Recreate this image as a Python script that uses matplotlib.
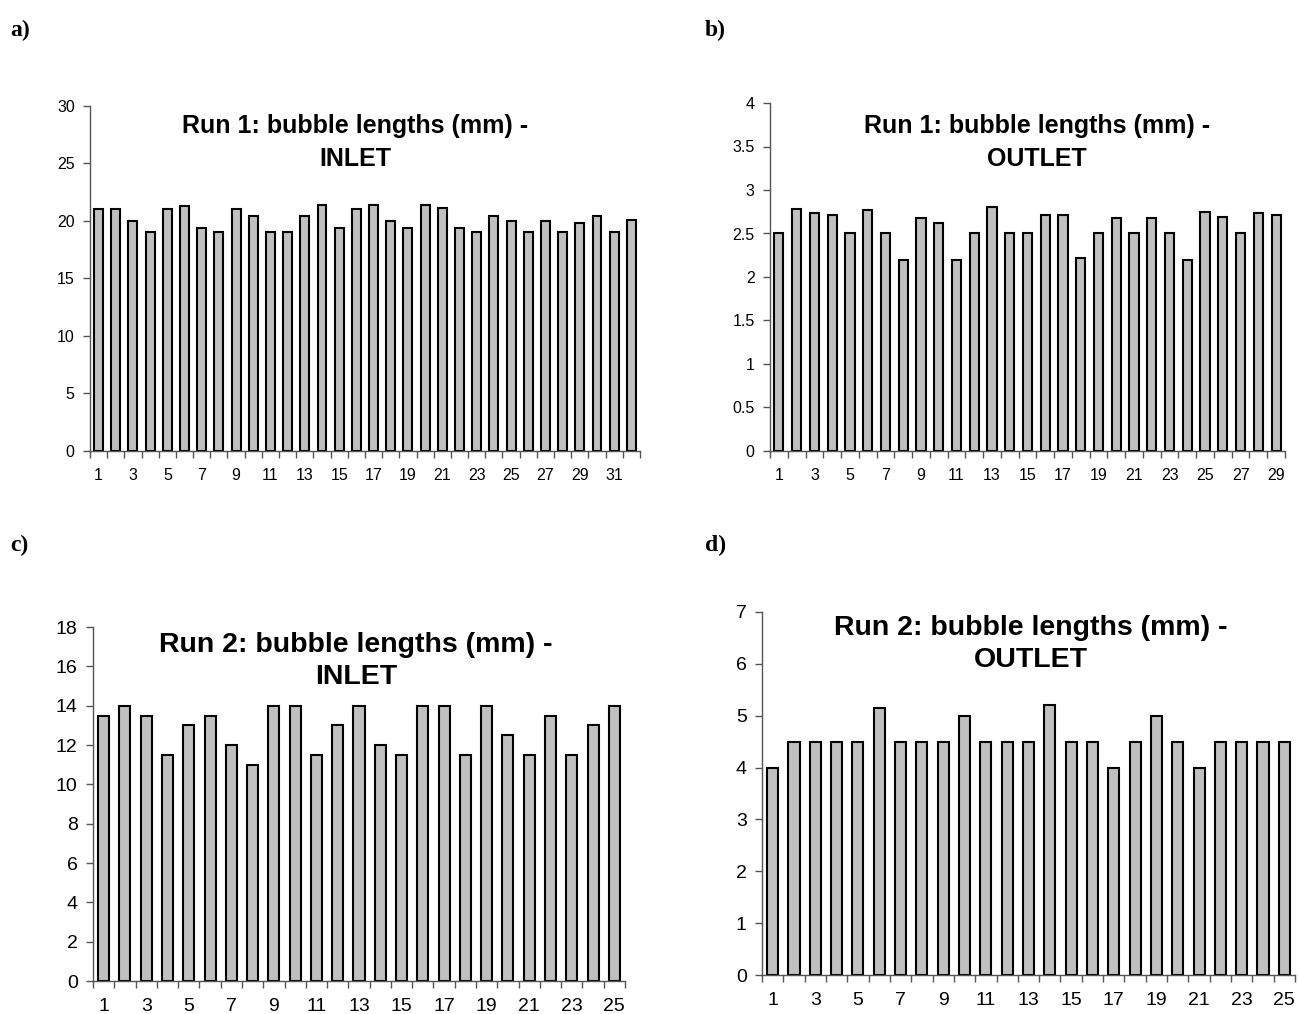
import matplotlib
matplotlib.use("Agg")
import matplotlib.pyplot as plt
import numpy as np

run1_inlet = [21, 21, 20, 19, 21, 21.3, 19.4, 19, 21, 20.4, 19, 19, 20.4, 21.4, 19.4, 21,
              21.4, 20, 19.4, 21.4, 21.1, 19.4, 19, 20.4, 20, 19, 20, 19, 19.8, 20.4, 19, 20.1]
run1_outlet = [2.5, 2.78, 2.73, 2.71, 2.5, 2.77, 2.5, 2.2, 2.68, 2.62, 2.2, 2.5, 2.8, 2.5, 2.5,
               2.71, 2.71, 2.22, 2.5, 2.68, 2.5, 2.68, 2.5, 2.19, 2.75, 2.69, 2.5, 2.73, 2.71]
run2_inlet = [13.5, 14, 13.5, 11.5, 13, 13.5, 12, 11, 14, 14, 11.5, 13, 14, 12, 11.5, 14, 14,
              11.5, 14, 12.5, 11.5, 13.5, 11.5, 13, 14]
run2_outlet = [4, 4.5, 4.5, 4.5, 4.5, 5.15, 4.5, 4.5, 4.5, 5, 4.5, 4.5, 4.5, 5.2, 4.5, 4.5, 4,
               4.5, 5, 4.5, 4, 4.5, 4.5, 4.5, 4.5]

titles = ["Run 1: bubble lengths (mm) -\nINLET", "Run 1: bubble lengths (mm) -\nOUTLET",
          "Run 2: bubble lengths (mm) -\nINLET", "Run 2: bubble lengths (mm) -\nOUTLET"]
panel_labels = ["a)", "b)", "c)", "d)"]
yticks_list = [np.arange(0, 31, 5), np.arange(0, 4.01, 0.5), np.arange(0, 19, 2), np.arange(0, 8, 1)]
ytick_labels = [[str(int(v)) for v in yticks_list[0]],
                ["0", "0.5", "1", "1.5", "2", "2.5", "3", "3.5", "4"],
                [str(int(v)) for v in yticks_list[2]],
                [str(int(v)) for v in yticks_list[3]]]
datasets = [run1_inlet, run1_outlet, run2_inlet, run2_outlet]

W, H = 1298, 1014
fig = plt.figure(figsize=(W / 100, H / 100), dpi=100)

# axes boxes in pixels: left, right, top, bottom
boxes = [(90, 640, 106, 451), (770, 1285, 103, 451), (93, 625, 627, 981), (762, 1295, 612, 975)]
title_pos = [(355, 114), (1037, 114), (356, 632), (1031, 615)]
title_fs = [18, 18, 20.5, 20.5]
title_ls = [1.5, 1.5, 1.3, 1.3]
tick_fs = [11.5, 11.5, 14, 14]
label_pos = [(10, 30), (705, 30), (10, 545), (705, 545)]

for i in range(4):
    l, r, t, b = boxes[i]
    ax = fig.add_axes([l / W, 1 - b / H, (r - l) / W, (b - t) / H])
    vals = datasets[i]
    n = len(vals)
    x = np.arange(1, n + 1)
    ax.bar(x, vals, width=0.52, color="#c0c0c0", edgecolor="black", linewidth=1.5)
    ax.set_xlim(0.5, n + 0.5)
    yt = yticks_list[i]
    ax.set_ylim(0, yt[-1])
    ax.set_yticks(yt)
    ax.set_yticklabels(ytick_labels[i], fontfamily="Liberation Sans", fontsize=tick_fs[i])
    ax.set_xticks(x[::2])
    ax.set_xticklabels([str(v) for v in x[::2]], fontfamily="Liberation Sans", fontsize=tick_fs[i])
    ax.set_xticks(np.arange(0.5, n + 1.0, 1.0), minor=True)
    ax.tick_params(axis="x", which="major", length=0, pad=12)
    ax.tick_params(axis="x", which="minor", length=5, width=1, color="#555555", direction="out")
    ax.tick_params(axis="y", length=5, width=1, color="#555555", direction="out", pad=6)
    for s in ["top", "right"]:
        ax.spines[s].set_visible(False)
    for s in ["left", "bottom"]:
        ax.spines[s].set_color("#555555")
        ax.spines[s].set_linewidth(1.0)
    tx, ty = title_pos[i]
    fig.text(tx / W, 1 - ty / H, titles[i], ha="center", va="top", fontfamily="Liberation Sans",
             fontweight="bold", fontsize=title_fs[i], linespacing=title_ls[i])
    lx, ly = label_pos[i]
    fig.text(lx / W, 1 - ly / H, panel_labels[i], ha="left", va="center", fontfamily="Liberation Serif",
             fontweight="bold", fontsize=17)

fig.savefig("out.png", dpi=100)
